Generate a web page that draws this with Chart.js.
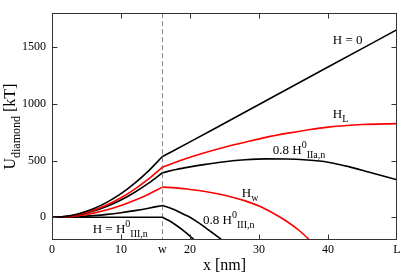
<!DOCTYPE html>
<html>
<head>
<meta charset="utf-8">
<script src="https://cdn.jsdelivr.net/npm/chart.js@4"></script>
<style>
  body { margin: 0; background: #fff; }
</style>
</head>
<body>
<canvas id="chart" width="415" height="276"></canvas>
<script>
// x positions (nm); w = 16, L = 50
const W = 16;
const L = 50;
const xTickValues = [0, 10, W, 20, 30, 40, L];
const yTickValues = [0, 500, 1000, 1500];

// left of w (all curves share the same x grid)
const xLeft = [0, 2, 4, 6, 8, 10, 12, 14, 16];
const uH0Left = [0, 8, 34, 75, 134, 209, 302, 410, 536];
const uHLLeft = [0, 7, 28, 62, 110, 173, 249, 338, 442];
const uIIa08Left = [0, 6, 25, 55, 98, 153, 221, 301, 393];
const uHwLeft = [0, 4, 17, 37, 66, 104, 150, 204, 266];
const uIII08Left = [0, 2, 7, 15, 26, 41, 59, 80, 105];
const uIIILeft = [0, 0, 0, 0, 0, 0, 0, 0, 0];

// right of w
const xH0Right = [16, 20, 25, 30, 35, 40, 45, 50];
const uH0Right = [536, 665, 830, 995, 1160, 1325, 1490, 1655];
const xHLRight = [16, 18, 20, 22, 25, 28, 31, 34, 37, 40, 45, 50];
const uHLRight = [442, 488, 530, 568, 618, 662, 705, 740, 770, 795, 818, 826];
const xIIa08Right = [16, 18, 20, 22, 25, 28, 31, 34, 37, 40, 43, 46, 50];
const uIIa08Right = [393, 422, 445, 465, 490, 507, 515, 514, 505, 486, 447, 397, 331];
const xHwRight = [16, 18, 20, 22, 24, 26, 28, 30, 32, 34, 36, 38];
const uHwRight = [266, 260, 246, 230, 208, 180, 145, 100, 38, -35, -125, -240];
const xIII08Right = [16, 17, 18, 19, 20, 21, 22, 23, 24, 25, 26];
const uIII08Right = [105, 85, 60, 30, 0, -38, -80, -125, -170, -215, -265];
const xIIIRight = [16, 17, 18, 19, 20, 21, 22];
const uIIIRight = [0, -30, -70, -115, -165, -220, -280];

const pts = (xs, ys) => xs.map((x, i) => ({x: x, y: ys[i]}));

function line(xs, ys, color) {
  return {
    data: pts(xs, ys),
    borderColor: color,
    borderWidth: 1.6,
    pointRadius: 0,
    fill: false,
    cubicInterpolationMode: 'monotone'
  };
}

const BLACK = '#000000';
const RED = '#ff0000';

const serif = '"Liberation Serif", "DejaVu Serif", serif';

// text labels: [parts, x, y] in data units
const curveLabels = [
  [[{t: 'H = 0'}], 40.7, 1560],
  [[{t: 'H'}, {t: 'L', sub: true}], 40.7, 905],
  [[{t: '0.8 H'}, {t: '0', sup: true}, {t: 'IIa,n', sub: true}], 32.0, 589],
  [[{t: 'H'}, {t: 'w', sub: true}], 27.5, 207],
  [[{t: '0.8 H'}, {t: '0', sup: true}, {t: 'III,n', sub: true}], 21.9, -26],
  [[{t: 'H = H'}, {t: '0', sup: true}, {t: 'III,n', sub: true}], 5.9, -110]
];

function drawRich(ctx, parts, x, y, size, align) {
  let total = 0;
  parts.forEach(p => {
    ctx.font = ((p.sub || p.sup) ? Math.round(size * 0.75) : size) + 'px ' + serif;
    total += ctx.measureText(p.t).width;
  });
  let cx = align === 'center' ? x - total / 2 : x;
  parts.forEach(p => {
    ctx.font = ((p.sub || p.sup) ? Math.round(size * 0.75) : size) + 'px ' + serif;
    let dy = p.sub ? size * 0.36 : p.sup ? -size * 0.38 : 0;
    ctx.fillText(p.t, cx, y + dy);
    cx += ctx.measureText(p.t).width;
  });
}

const decor = {
  id: 'decor',
  beforeDatasetsDraw(chart) {
    const {ctx, chartArea: a, scales: {x, y}} = chart;
    ctx.save();
    // dashed line at w
    ctx.strokeStyle = '#8a8a8a';
    ctx.lineWidth = 1;
    ctx.setLineDash([5, 3]);
    const xw = Math.round(x.getPixelForValue(W)) + 0.5;
    ctx.beginPath();
    ctx.moveTo(xw, a.top);
    ctx.lineTo(xw, a.bottom);
    ctx.stroke();
    ctx.restore();
  },
  afterDatasetsDraw(chart) {
    const {ctx, chartArea: a, scales: {x, y}} = chart;
    ctx.save();
    // frame
    ctx.strokeStyle = '#333';
    ctx.lineWidth = 1;
    const l = Math.round(a.left) + 0.5, r = Math.round(a.right) - 0.5;
    const t = Math.round(a.top) + 0.5, b = Math.round(a.bottom) - 0.5;
    ctx.strokeRect(l, t, r - l, b - t);
    // inward tick marks, mirrored
    ctx.beginPath();
    xTickValues.forEach(v => {
      if (v === W || v === 0 || v === L) return;
      const px = Math.round(x.getPixelForValue(v)) + 0.5;
      ctx.moveTo(px, b); ctx.lineTo(px, b - 5);
      ctx.moveTo(px, t); ctx.lineTo(px, t + 5);
    });
    yTickValues.forEach(v => {
      const py = Math.round(y.getPixelForValue(v)) + 0.5;
      ctx.moveTo(l, py); ctx.lineTo(l + 5, py);
      ctx.moveTo(r, py); ctx.lineTo(r - 5, py);
    });
    ctx.stroke();

    // curve labels
    ctx.fillStyle = '#000';
    ctx.textBaseline = 'middle';
    ctx.textAlign = 'left';
    curveLabels.forEach(([parts, vx, vy]) => {
      drawRich(ctx, parts, x.getPixelForValue(vx), y.getPixelForValue(vy), 13, 'left');
    });

    // axis titles
    drawRich(ctx, [{t: 'x [nm]'}], (a.left + a.right) / 2, 266, 16, 'center');
    ctx.translate(11, (a.top + a.bottom) / 2);
    ctx.rotate(-Math.PI / 2);
    drawRich(ctx, [{t: 'U'}, {t: 'diamond', sub: true}, {t: ' [kT]'}], 0, 0, 16, 'center');
    ctx.restore();
  }
};

const ctx = document.getElementById('chart');

new Chart(ctx, {
  type: 'line',
  data: {
    datasets: [
      line(xLeft, uH0Left, BLACK),
      line(xH0Right, uH0Right, BLACK),
      line(xLeft, uHLLeft, RED),
      line(xHLRight, uHLRight, RED),
      line(xLeft, uIIa08Left, BLACK),
      line(xIIa08Right, uIIa08Right, BLACK),
      line(xLeft, uHwLeft, RED),
      line(xHwRight, uHwRight, RED),
      line(xLeft, uIII08Left, BLACK),
      line(xIII08Right, uIII08Right, BLACK),
      line(xLeft, uIIILeft, BLACK),
      line(xIIIRight, uIIIRight, BLACK)
    ]
  },
  options: {
    responsive: false,
    animation: false,
    layout: { padding: { left: 0, right: 18, top: 13, bottom: 0 } },
    plugins: {
      legend: { display: false },
      tooltip: { enabled: false }
    },
    scales: {
      x: {
        type: 'linear',
        min: 0,
        max: L,
        grid: { display: false, drawTicks: false },
        border: { display: false },
        afterBuildTicks: s => { s.ticks = xTickValues.map(v => ({value: v})); },
        afterFit: s => { s.height = 36; },
        ticks: {
          autoSkip: false,
          maxRotation: 0,
          padding: 3,
          color: '#000',
          font: { family: serif, size: 12 },
          callback: v => v === W ? 'w' : v === L ? 'L' : String(v)
        }
      },
      y: {
        min: -200,
        max: 1800,
        grid: { display: false, drawTicks: false },
        border: { display: false },
        afterBuildTicks: s => { s.ticks = yTickValues.map(v => ({value: v})); },
        afterFit: s => { s.width = 52; },
        ticks: {
          padding: 6,
          color: '#000',
          font: { family: serif, size: 12 },
          callback: v => String(v)
        }
      }
    }
  },
  plugins: [decor]
});
</script>
</body>
</html>
